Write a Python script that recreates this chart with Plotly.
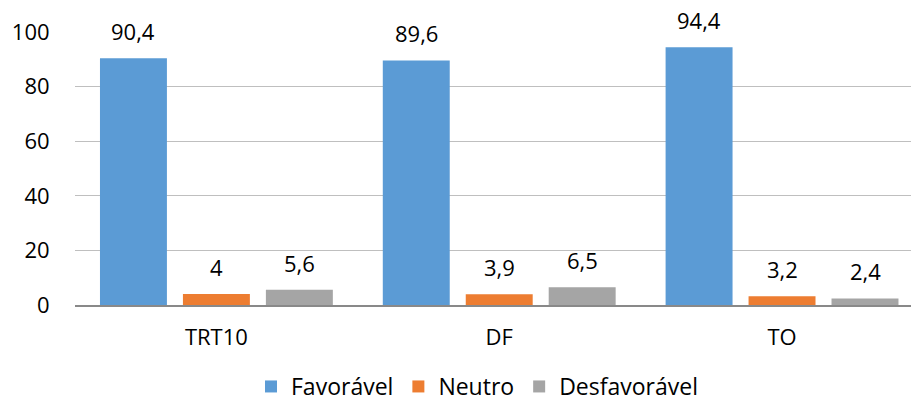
import plotly.graph_objects as go

# Survey results per unit (percent)
categories = ["TRT10", "DF", "TO"]
series_names = ["Favorável", "Neutro", "Desfavorável"]
favoravel = [90.4, 89.6, 94.4]
neutro = [4, 3.9, 3.2]
desfavoravel = [5.6, 6.5, 2.4]
y_ticks = [0, 20, 40, 60, 80, 100]

series_values = [favoravel, neutro, desfavoravel]
colors = ["#5B9BD5", "#ED7D31", "#A5A5A5"]

FONT = "Open Sans"
FS = 22
BARGAP = 0.12
BARGROUPGAP = 0.193


def fmt(v):
    s = ("%g" % v)
    return s.replace(".", ",")


fig = go.Figure()
for name, vals, col in zip(series_names, series_values, colors):
    fig.add_trace(go.Bar(
        x=categories, y=vals, name=name,
        marker=dict(color=col, line=dict(width=0)),
        hoverinfo="skip",
    ))

# value labels above each bar, centred over the bar inside its group slot
n = len(series_names)
slot = (1 - BARGAP) / n
annotations = []
for j, vals in enumerate(series_values):
    offset = (j - (n - 1) / 2) * slot
    for i, v in enumerate(vals):
        annotations.append(dict(
            x=i + offset, y=v, xref="x", yref="y",
            text=fmt(v), showarrow=False,
            yanchor="bottom", yshift=10,
            font=dict(family=FONT, size=FS, color="#000000"),
        ))

fig.update_layout(
    width=911, height=408,
    margin=dict(l=75, r=0, t=32, b=103, autoexpand=False),
    paper_bgcolor="white", plot_bgcolor="white",
    barmode="group", bargap=BARGAP, bargroupgap=BARGROUPGAP,
    font=dict(family=FONT, size=FS, color="#000000"),
    annotations=annotations,
    showlegend=True,
    legend=dict(
        orientation="h", xref="container", x=477 / 911, xanchor="center",
        yref="container", y=0, yanchor="bottom",
        font=dict(family=FONT, size=23, color="#000000"),
        itemsizing="constant", traceorder="normal",
    ),
)

fig.update_xaxes(
    range=[-0.5, 2.456],
    showgrid=False, zeroline=False,
    showline=True, linecolor="#898989", linewidth=2,
    ticks="outside", ticklen=12, tickcolor="rgba(0,0,0,0)",
    tickfont=dict(family=FONT, size=FS, color="#000000"),
)
fig.update_yaxes(
    range=[0, 100], tickvals=y_ticks,
    showgrid=True, gridcolor="#BFBFBF", gridwidth=1,
    zeroline=False, showline=False,
    ticks="outside", ticklen=20, tickcolor="rgba(0,0,0,0)",
    tickfont=dict(family=FONT, size=FS, color="#000000"),
)

fig.write_html("out.html")
